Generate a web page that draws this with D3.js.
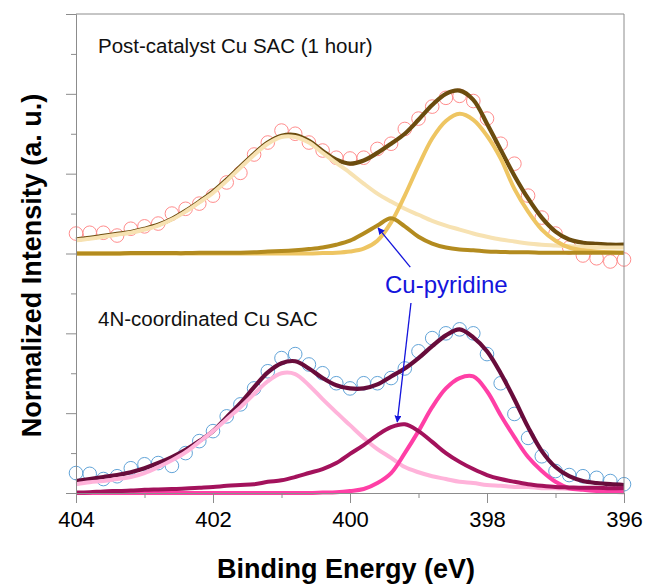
<!DOCTYPE html>
<html>
<head>
<meta charset="utf-8">
<script src="https://cdn.jsdelivr.net/npm/d3@7"></script>
<style>
  html, body { margin: 0; padding: 0; background: #fff; }
  svg { display: block; font-family: "Liberation Sans", Arial, sans-serif; }
</style>
</head>
<body>
<svg id="chart" width="648" height="584"></svg>
<script>
// ---------------- DATA ----------------
const energies = [404.0, 403.8, 403.6, 403.4, 403.2, 403.0, 402.8, 402.6, 402.4, 402.2,
                  402.0, 401.8, 401.6, 401.4, 401.2, 401.0, 400.8, 400.6, 400.4, 400.2,
                  400.0, 399.8, 399.6, 399.4, 399.2, 399.0, 398.8, 398.6, 398.4, 398.2,
                  398.0, 397.8, 397.6, 397.4, 397.2, 397.0, 396.8, 396.6, 396.4, 396.2, 396.0];

// Post-catalyst Cu SAC (1 hour) — top panel (values relative to its own baseline)
const postData = [0.50, 0.52, 0.52, 0.45, 0.62, 0.68, 0.75, 1.00, 1.12, 1.25,
                  1.45, 1.78, 2.02, 2.48, 2.78, 3.08, 3.00, 2.78, 2.58, 2.40,
                  2.38, 2.40, 2.62, 2.75, 3.12, 3.38, 3.68, 3.90, 3.95, 3.82,
                  3.38, 2.75, 2.25, 1.45, 0.90, 0.50, 0.15, -0.05, -0.12, -0.20, -0.15];
const postEnvelope = [0.35, 0.39, 0.44, 0.49, 0.54, 0.62, 0.72, 0.87, 1.07, 1.30,
                      1.55, 1.85, 2.18, 2.50, 2.78, 2.95, 2.97, 2.82, 2.57, 2.35,
                      2.25, 2.33, 2.52, 2.75, 3.00, 3.35, 3.72, 4.00, 4.08, 3.85,
                      3.25, 2.60, 1.95, 1.38, 0.90, 0.55, 0.35, 0.27, 0.24, 0.22, 0.22];
const postPeak401 = [0.33, 0.37, 0.42, 0.47, 0.52, 0.60, 0.70, 0.85, 1.05, 1.28,
                     1.52, 1.82, 2.15, 2.47, 2.75, 2.92, 2.92, 2.78, 2.52, 2.27,
                     2.02, 1.75, 1.50, 1.30, 1.12, 0.97, 0.82, 0.70, 0.60, 0.50,
                     0.42, 0.35, 0.30, 0.25, 0.22, 0.20, 0.18, 0.17, 0.16, 0.15, 0.15];
const postPeak398 = [0.00, 0.00, 0.00, 0.00, 0.00, 0.00, 0.00, 0.00, 0.00, 0.00,
                     0.00, 0.00, 0.00, 0.00, 0.00, 0.00, 0.00, 0.00, 0.01, 0.02,
                     0.05, 0.12, 0.32, 0.78, 1.45, 2.20, 2.88, 3.32, 3.50, 3.35,
                     2.95, 2.38, 1.62, 1.05, 0.60, 0.32, 0.15, 0.08, 0.05, 0.03, 0.02];
const postCuPyridine = [0.00, 0.00, 0.00, 0.00, 0.01, 0.01, 0.01, 0.01, 0.01, 0.02,
                        0.02, 0.02, 0.02, 0.03, 0.05, 0.06, 0.08, 0.11, 0.15, 0.22,
                        0.32, 0.50, 0.70, 0.88, 0.68, 0.42, 0.25, 0.15, 0.10, 0.08,
                        0.05, 0.04, 0.03, 0.03, 0.02, 0.02, 0.02, 0.02, 0.02, 0.02, 0.02];

// 4N-coordinated Cu SAC — bottom panel
const refData = [0.50, 0.48, 0.35, 0.42, 0.62, 0.72, 0.75, 0.68, 1.00, 1.30,
                 1.55, 1.92, 2.22, 2.62, 3.05, 3.38, 3.48, 3.22, 3.00, 2.75,
                 2.62, 2.75, 2.75, 2.88, 3.12, 3.55, 3.88, 4.00, 4.10, 4.00,
                 3.48, 2.75, 1.98, 1.38, 0.92, 0.55, 0.45, 0.42, 0.38, 0.30, 0.22];
const refEnvelope = [0.30, 0.35, 0.40, 0.45, 0.52, 0.62, 0.75, 0.90, 1.08, 1.30,
                     1.55, 1.90, 2.25, 2.65, 3.02, 3.25, 3.30, 3.12, 2.88, 2.70,
                     2.62, 2.62, 2.72, 2.92, 3.12, 3.38, 3.68, 3.95, 4.10, 3.90,
                     3.55, 3.00, 2.35, 1.65, 1.05, 0.65, 0.42, 0.30, 0.25, 0.22, 0.20];
const refPeak401 = [0.22, 0.27, 0.30, 0.35, 0.40, 0.50, 0.65, 0.82, 1.02, 1.28,
                    1.55, 1.85, 2.15, 2.48, 2.80, 3.00, 2.98, 2.70, 2.35, 2.02,
                    1.70, 1.38, 1.10, 0.88, 0.65, 0.52, 0.42, 0.35, 0.28, 0.25,
                    0.20, 0.18, 0.15, 0.15, 0.12, 0.12, 0.10, 0.10, 0.09, 0.08, 0.08];
const refPeak398 = [0.00, 0.00, 0.00, 0.00, 0.00, 0.00, 0.00, 0.00, 0.00, 0.00,
                    0.00, 0.00, 0.00, 0.00, 0.00, 0.00, 0.00, 0.00, 0.01, 0.02,
                    0.05, 0.10, 0.25, 0.50, 1.00, 1.55, 2.15, 2.62, 2.88, 2.92,
                    2.55, 1.95, 1.40, 0.90, 0.55, 0.28, 0.12, 0.08, 0.05, 0.03, 0.02];
const refCuPyridine = [0.01, 0.02, 0.04, 0.05, 0.06, 0.08, 0.09, 0.10, 0.11, 0.13,
                       0.15, 0.18, 0.20, 0.22, 0.28, 0.32, 0.40, 0.50, 0.60, 0.75,
                       0.98, 1.20, 1.45, 1.65, 1.72, 1.55, 1.28, 1.00, 0.78, 0.60,
                       0.45, 0.35, 0.28, 0.22, 0.18, 0.15, 0.14, 0.13, 0.13, 0.12, 0.12];

const panelOffsets = [6, 0];   // vertical stacking offset (intensity units)
const panelTitles = ["Post-catalyst Cu SAC (1 hour)", "4N-coordinated Cu SAC"];
const xMajorTicks = [404, 402, 400, 398, 396];
const xMinorTicks = [403, 401, 399, 397];
const yMajorTicks = [0, 2, 4, 6, 8, 10, 12];
const yMinorTicks = [1, 3, 5, 7, 9, 11];
const annotationText = "Cu-pyridine";
const xTitle = "Binding Energy (eV)";
const yTitle = "Normalized Intensity (a. u.)";

// ---------------- DRAW ----------------
const svg = d3.select("#chart");
const x = d3.scaleLinear().domain([404, 396]).range([76, 624]);
const y = d3.scaleLinear().domain([0, 12]).range([493, 14]);

const panels = [
  { off: panelOffsets[0], data: postData, env: postEnvelope,
    comps: [postPeak401, postPeak398, postCuPyridine],
    compColors: ["#f7e2b2", "#eec562", "#b38b1f"], envColor: "#6b4c0e", dotColor: "#ff8c8c" },
  { off: panelOffsets[1], data: refData, env: refEnvelope,
    comps: [refPeak401, refPeak398, refCuPyridine],
    compColors: ["#ffb3da", "#ff3fa6", "#a3125c"], envColor: "#680c3b", dotColor: "#62a4d8" }
];

const plot = svg.append("g");
panels.forEach(p => {
  const line = d3.line().x((d, i) => x(energies[i])).y(d => y(d + p.off)).curve(d3.curveCatmullRom.alpha(0.5));
  plot.append("g").selectAll("circle").data(p.data).join("circle")
    .attr("cx", (d, i) => x(energies[i])).attr("cy", d => y(d + p.off)).attr("r", 6.8)
    .attr("fill", "none").attr("stroke", p.dotColor).attr("stroke-width", 1);
  plot.append("path").datum(p.env).attr("d", line).attr("fill", "none")
    .attr("stroke", p.envColor).attr("stroke-width", 4.2).attr("stroke-linejoin", "round");
  p.comps.forEach((c, k) => {
    plot.append("path").datum(c).attr("d", line).attr("fill", "none")
      .attr("stroke", p.compColors[k]).attr("stroke-width", 4).attr("stroke-linejoin", "round");
  });
});

// frame
const axisColor = "#8c8c8c";
svg.append("line").attr("x1", x(404)).attr("x2", x(396)).attr("y1", y(12)).attr("y2", y(12)).attr("stroke", axisColor);
svg.append("line").attr("x1", x(396)).attr("x2", x(396)).attr("y1", y(12)).attr("y2", y(0)).attr("stroke", axisColor);

// y axis
const yAxisMaj = d3.axisLeft(y).tickValues(yMajorTicks).tickSize(10).tickFormat("");
const yAxisMin = d3.axisLeft(y).tickValues(yMinorTicks).tickSize(5).tickFormat("");
svg.append("g").attr("transform", `translate(${x(404)},0)`).call(yAxisMaj);
svg.append("g").attr("transform", `translate(${x(404)},0)`).call(yAxisMin).select(".domain").remove();
// x axis
const gx = svg.append("g").attr("transform", `translate(0,${y(0)})`)
  .call(d3.axisBottom(x).tickValues(xMajorTicks).tickSize(10).tickPadding(8).tickFormat(d3.format("d")));
svg.append("g").attr("transform", `translate(0,${y(0)})`)
  .call(d3.axisBottom(x).tickValues(xMinorTicks).tickSize(5).tickFormat("")).select(".domain").remove();
svg.selectAll(".domain").attr("stroke", axisColor);
svg.selectAll(".tick line").attr("stroke", axisColor);
gx.selectAll(".tick text").attr("font-size", 22).attr("fill", "#000")
  .attr("font-family", "Liberation Sans, Arial, sans-serif");

// titles
svg.append("text").attr("x", 346).attr("y", 578).attr("text-anchor", "middle")
  .attr("font-size", 27).attr("font-weight", "bold").text(xTitle);
svg.append("text").attr("transform", `translate(41,${y(5.7)}) rotate(-90)`).attr("text-anchor", "middle")
  .attr("font-size", 27).attr("font-weight", "bold").text(yTitle);

// panel titles
svg.append("text").attr("x", 98).attr("y", 53).attr("font-size", 20.5).attr("fill", "#111").text(panelTitles[0]);
svg.append("text").attr("x", 98).attr("y", 326).attr("font-size", 20.5).attr("fill", "#111").text(panelTitles[1]);

// annotation
const blue = "#1414dc";
svg.append("defs").append("marker").attr("id", "ah").attr("viewBox", "0 0 10 10")
  .attr("refX", 9).attr("refY", 5).attr("markerWidth", 7).attr("markerHeight", 7)
  .attr("markerUnits", "userSpaceOnUse").attr("orient", "auto")
  .append("path").attr("d", "M0,0 L10,5 L0,10 z").attr("fill", blue);
svg.append("text").attr("x", 385).attr("y", 293).attr("font-size", 24).attr("fill", blue).text(annotationText);
svg.append("line").attr("x1", x(399.12)).attr("y1", y(5.66)).attr("x2", x(399.59)).attr("y2", y(6.64))
  .attr("stroke", blue).attr("stroke-width", 1.3).attr("marker-end", "url(#ah)");
svg.append("line").attr("x1", x(399.11)).attr("y1", y(4.76)).attr("x2", x(399.31)).attr("y2", y(1.78))
  .attr("stroke", blue).attr("stroke-width", 1.3).attr("marker-end", "url(#ah)");
</script>
</body>
</html>
